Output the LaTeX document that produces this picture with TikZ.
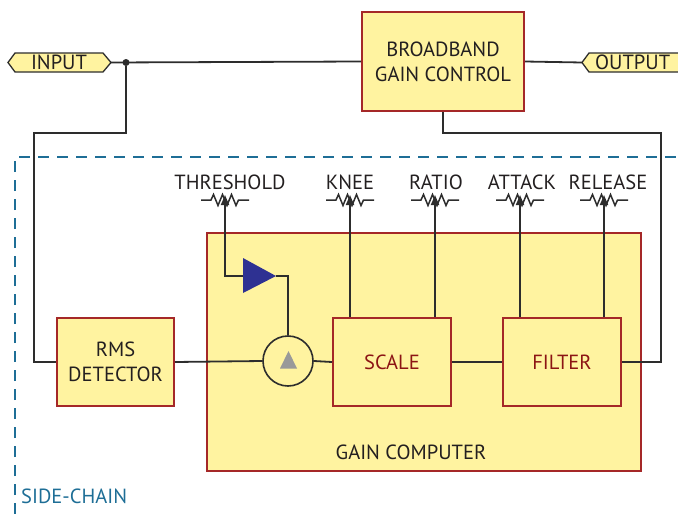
\documentclass[tikz,border=0pt]{standalone}
\usepackage{fontspec}
\setmainfont{PT Sans}
\usetikzlibrary{arrows.meta}
\definecolor{boxyellow}{RGB}{255,243,160}
\definecolor{boxred}{RGB}{165,40,40}
\definecolor{wirec}{RGB}{45,45,45}
\definecolor{dashblue}{RGB}{30,110,150}
\definecolor{ampblue}{RGB}{46,49,146}
\definecolor{textred}{RGB}{140,20,20}
\definecolor{textc}{RGB}{35,31,32}
\tikzset{
  box/.style={draw=boxred, fill=boxyellow, line width=2pt, inner sep=0pt, align=center, text=textc},
  wire/.style={draw=wirec, line width=1.8pt},
  lbl/.style={inner sep=0pt, text=textc},
  tag/.style={draw=wirec, fill=boxyellow, line width=1.3pt},
  pot/.pic={\draw[wirec, line width=1.5pt, line join=miter] (-24,0) -- (-14,0) -- (-11.5,-5.5) -- (-7,5.5) -- (-2.5,-5.5) -- (2,5.5) -- (6.5,-5.5) -- (11,5.5) -- (13.5,0) -- (24,0);},
  wiper/.style={wire, -{Triangle[length=10pt,width=8pt]}, shorten >=-5pt}
}
\begin{document}
\begin{tikzpicture}[x=1pt,y=-1pt,font=\fontsize{20.5}{25}\selectfont]
\useasboundingbox (0,0) rectangle (678,514);
\clip (0,0) rectangle (678,514);

% side-chain dashed frame
\draw[dashblue, line width=1.6pt, dash pattern=on 11pt off 8pt] (15,514) -- (15,157) -- (690,157);
\node[lbl, anchor=west, text=dashblue] (sc) at (21,496) {SIDE-CHAIN};

% tags
\draw[tag] (8,62.5) -- (15,53) -- (103,53) -- (111,62.5) -- (103,72) -- (15,72) -- cycle;
\node[lbl] (input) at (59,62.5) {INPUT};
\coordinate (inputtip) at (111,62.5);
\draw[tag] (690,53) -- (589,53) -- (582,62.5) -- (589,72) -- (690,72);
\node[lbl, anchor=west] (output) at (595,62.5) {OUTPUT};
\coordinate (outputtip) at (582,62.5);

% boxes
\node[box, minimum width=162pt, minimum height=99pt] (bgc) at (443,61.5) {BROADBAND\\GAIN CONTROL};
\node[box, minimum width=434pt, minimum height=238pt] (gc) at (424,352) {};
\node[lbl] (gclabel) at (411,452) {GAIN COMPUTER};
\node[box, minimum width=117pt, minimum height=88pt] (rms) at (115.5,362) {RMS\\DETECTOR};
\node[box, minimum width=118pt, minimum height=88pt, text=textred] (scale) at (392,362) {SCALE};
\node[box, minimum width=118pt, minimum height=88pt, text=textred] (filter) at (562,362) {FILTER};

% summing circle
\node[circle, draw=wirec, line width=1.6pt, minimum size=50pt, inner sep=0pt] (sum) at (288,361) {};
\fill[black!40] (280,368.5) -- (297,368.5) -- (288.5,351) -- cycle;

% amplifier triangle
\fill[ampblue] (243,258) -- (276,276) -- (243,293) -- cycle;
\coordinate (ampin) at (243,276);
\coordinate (ampout) at (276,276);

% pots
\pic at (225,200) {pot};
\pic at (350,200) {pot};
\pic at (435,200) {pot};
\pic at (520,200) {pot};
\pic at (604,200) {pot};
\coordinate (thr) at (225,200);
\coordinate (knee) at (350,200);
\coordinate (ratio) at (435,200);
\coordinate (attack) at (520,200);
\coordinate (release) at (604,200);
\node[lbl] (thrl) at (230,182) {THRESHOLD};
\node[lbl] (kneel) at (350,182) {KNEE};
\node[lbl] (ratiol) at (436,182) {RATIO};
\node[lbl] (attackl) at (522,182) {ATTACK};
\node[lbl] (releasel) at (608,182) {RELEASE};

% wipers
\draw[wiper] (ampin) -| (thr);
\draw[wiper] (knee |- scale.north) -- (knee);
\draw[wiper] (ratio |- scale.north) -- (ratio);
\draw[wiper] (attack |- filter.north) -- (attack);
\draw[wiper] (release |- filter.north) -- (release);
\draw[wire] (ampout) -| (sum.north);

% main wires
\draw[wire] (inputtip) -- (bgc.west);
\draw[wire] (bgc.east) -- (outputtip);
\node[circle, fill=wirec, inner sep=0pt, minimum size=7pt] (j) at (126,62.5) {};
\coordinate (c0) at (34,133);
\draw[wire] (j) |- (c0) |- (rms.west);
\coordinate (c1) at (661,133);
\draw[wire] (bgc.south) |- (c1) |- (filter.east);
\draw[wire] (rms.east) -- (sum.west);
\draw[wire] (sum.east) -- (scale.west);
\draw[wire] (scale.east) -- (filter.west);
\end{tikzpicture}
\end{document}
